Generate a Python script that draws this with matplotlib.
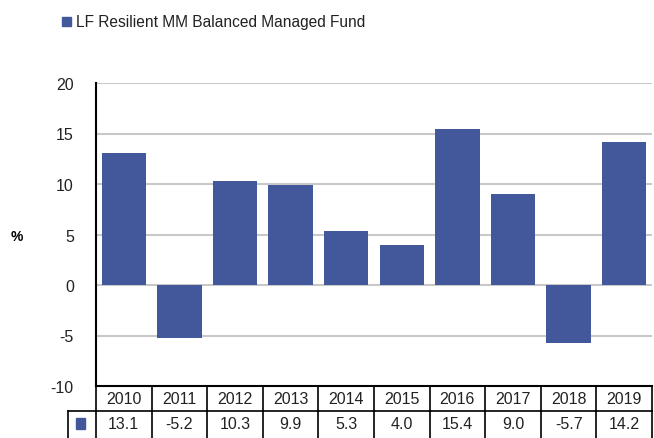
import numpy as np
import matplotlib.pyplot as plt
from matplotlib.lines import Line2D
from matplotlib.patches import Rectangle

plt.rcParams['font.family'] = ['Liberation Sans', 'DejaVu Sans']

# ---------------------------------
# Data
# ---------------------------------
years = ['2010', '2011', '2012', '2013', '2014', '2015', '2016', '2017', '2018', '2019']
returns = [13.1, -5.2, 10.3, 9.9, 5.3, 4.0, 15.4, 9.0, -5.7, 14.2]
series_name = 'LF Resilient MM Balanced Managed Fund'

bar_color = '#43579B'
grid_color = '#C8C8C8'

fig = plt.figure(figsize=(6.54, 4.39), dpi=100)
ax = fig.add_axes([96/654, 1 - 387/439, 556/654, 303/439])

x = np.arange(len(years))
ax.bar(x, returns, width=0.8, color=bar_color, zorder=3)

ax.set_xlim(-0.5, len(years) - 0.5)
ax.set_ylim(-10, 20)
ax.set_yticks([-10, -5, 0, 5, 10, 15, 20])
ax.set_yticklabels(['-10', '-5', '0', '5', '10', '15', '20'])
ax.set_xticks([])
ax.tick_params(axis='y', length=0, pad=16, labelsize=11.5, labelcolor='#222222')

for v in [-5, 0, 5, 10, 15, 20]:
    ax.axhline(v, color=grid_color, lw=1.5, zorder=1)

for s in ['top', 'right']:
    ax.spines[s].set_visible(False)
ax.spines['left'].set_linewidth(1.5)
ax.spines['bottom'].set_linewidth(1.5)

# "%" axis label
fig.text(17/654, 1 - 237/439, '%', fontsize=10, fontweight='bold', ha='center', va='center')

# ---------------------------------
# Table under the axis
# ---------------------------------
trans = ax.get_xaxis_transform()
row_h = 25 / 303
hdr_y = -row_h / 2
dat_y = -row_h * 1.5
left_cell = -0.5 - 28 / 55.6

lines = []
# header row
for i in range(len(years) + 1):
    lines.append(([i - 0.5, i - 0.5], [0, -row_h]))
lines.append(([-0.5, len(years) - 0.5], [-row_h, -row_h]))
# data row
for i in range(len(years) + 1):
    lines.append(([i - 0.5, i - 0.5], [-row_h, -2.2 * row_h]))
lines.append(([left_cell, left_cell], [-row_h, -2.2 * row_h]))
lines.append(([left_cell, -0.5], [-row_h, -row_h]))

for xs, ys in lines:
    ax.add_line(Line2D(xs, ys, transform=trans, color='black', lw=1.2, clip_on=False))

for i, yr in enumerate(years):
    ax.text(i, hdr_y, yr, transform=trans, ha='center', va='center',
            fontsize=11.5, color='#222222', clip_on=False)
    ax.text(i, dat_y, f'{returns[i]:.1f}', transform=trans, ha='center', va='center',
            fontsize=11.5, color='#222222', clip_on=False)

ax.add_patch(Rectangle((-0.5 - 20 / 55.6, dat_y - 0.017), 0.17, 0.034,
                       transform=trans, color=bar_color, clip_on=False))

# ---------------------------------
# Legend
# ---------------------------------
fig.patches.append(Rectangle((62/654, 1 - 27/439), 9/654, 9/439,
                             transform=fig.transFigure, color=bar_color))
fig.text(76/654, 1 - 22/439, series_name, fontsize=11.2, va='center', color='#222222')

plt.savefig('out.png', dpi=100)
